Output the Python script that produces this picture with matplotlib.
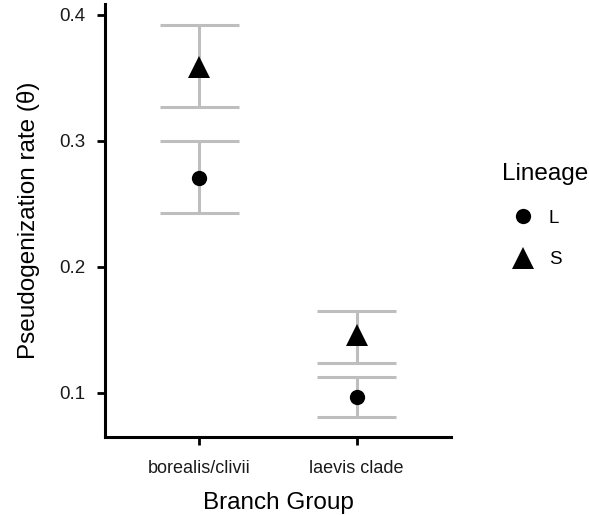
import matplotlib
matplotlib.use('Agg')
import matplotlib.pyplot as plt
from matplotlib.lines import Line2D

# data
groups = ["borealis/clivii", "laevis clade"]
lineages = ["L", "S"]
theta = {"L": [0.270, 0.0963], "S": [0.3587, 0.1458]}
lower = {"L": [0.2428, 0.0809], "S": [0.3269, 0.1234]}
upper = {"L": [0.300, 0.1125], "S": [0.392, 0.1646]}

markers = {"L": "o", "S": "^"}
sizes = {"L": 11, "S": 15.5}

plt.rcParams['font.family'] = ['Liberation Sans', 'DejaVu Sans']

fig = plt.figure(figsize=(5.89, 5.15), dpi=100)
ax = fig.add_axes([105 / 589, (515 - 436.7) / 515, (451 - 105) / 589, (436.7 - 4) / 515])

xpos = [1, 2]
grey = "#bebebe"
for lin in lineages:
    for x, lo, hi in zip(xpos, lower[lin], upper[lin]):
        ax.vlines(x, lo, hi, color=grey, lw=2.2, zorder=1)
        ax.hlines([lo, hi], x - 0.25, x + 0.25, color=grey, lw=2.2, zorder=1)
    ax.plot(xpos, theta[lin], linestyle="none", marker=markers[lin],
            ms=sizes[lin], mew=0, color="black", zorder=3)

ax.set_xlim(0.4, 2.6)
ax.set_ylim(0.065, 0.4085)
ax.set_xticks(xpos)
ax.set_xticklabels(groups, fontsize=13)
ax.set_yticks([0.1, 0.2, 0.3, 0.4])
ax.set_yticklabels(["0.1", "0.2", "0.3", "0.4"], fontsize=13.5)
ax.tick_params(length=6, width=2, color="black", labelcolor="#1a1a1a")
ax.tick_params(axis="x", pad=11)
ax.tick_params(axis="y", pad=8)

for side in ["top", "right"]:
    ax.spines[side].set_visible(False)
for side in ["left", "bottom"]:
    ax.spines[side].set_linewidth(2.2)

ax.set_xlabel("Branch Group", fontsize=17.5, labelpad=10.5)
ax.set_ylabel("Pseudogenization rate (\u03b8)", fontsize=17.5, labelpad=14)

handles = [Line2D([], [], linestyle="none", marker=markers[l], ms=sizes[l], mew=0, color="black")
           for l in lineages]
leg = fig.legend(handles, lineages, title="Lineage", loc="upper left",
                 bbox_to_anchor=(502 / 589, 1 - 163 / 515), frameon=False,
                 borderpad=0, borderaxespad=0,
                 fontsize=13.5, title_fontsize=17.5, handletextpad=0.3,
                 labelspacing=1.31, handlelength=2.2)
leg._legend_box.align = "left"

fig.savefig("out.png", dpi=100)
